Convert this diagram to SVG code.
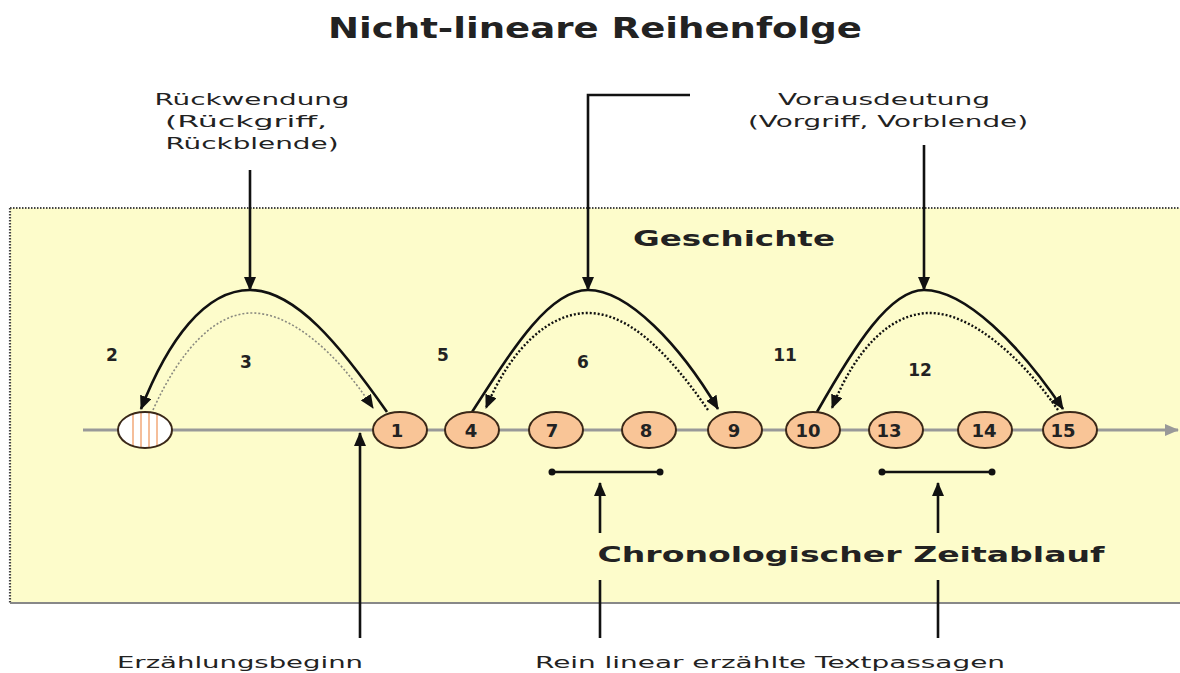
<svg xmlns="http://www.w3.org/2000/svg" width="1180" height="673" viewBox="0 0 1180 673">
<style>
.t{font-family:"DejaVu Sans","Liberation Sans",sans-serif;fill:#222}
.lab{font-size:16px}
.b{font-weight:bold}
.num{font-size:17px;font-weight:bold;text-anchor:middle}
.nn{font-size:18px}
.node{fill:#F9C597;stroke:#3a2818;stroke-width:2}
.solid{fill:none;stroke:#111;stroke-width:2.6}
.dot{fill:none;stroke:#111;stroke-width:2.4;stroke-dasharray:2 2}
.dotl{fill:none;stroke:#8a8a80;stroke-width:1.6;stroke-dasharray:2 2}
.ptr{fill:none;stroke:#111;stroke-width:2.6}
</style>
<defs>
<marker id="ah" markerUnits="userSpaceOnUse" markerWidth="14" markerHeight="12" refX="13" refY="6" orient="auto"><path d="M0,0 L14,6 L0,12 z" fill="#111"/></marker>
<marker id="ahg" markerUnits="userSpaceOnUse" markerWidth="14" markerHeight="12" refX="13" refY="6" orient="auto"><path d="M0,0 L14,6 L0,12 z" fill="#999"/></marker>
<marker id="dt" markerUnits="userSpaceOnUse" markerWidth="8" markerHeight="8" refX="4" refY="4"><circle cx="4" cy="4" r="3.5" fill="#111"/></marker>
<clipPath id="ec"><ellipse cx="145" cy="430" rx="27" ry="18"/></clipPath>
</defs>
<rect width="1180" height="673" fill="#fff"/>
<g id="title"><text class="t b" x="595" y="38" font-size="28" text-anchor="middle" textLength="534" lengthAdjust="spacingAndGlyphs">Nicht-lineare Reihenfolge</text></g>
<g id="geschichte-box">
<rect x="10" y="208" width="1180" height="395" fill="#FDFCCB"/>
<line x1="10" y1="208" x2="1180" y2="208" stroke="#444" stroke-width="2.2" stroke-dasharray="1.5 1.5"/>
<line x1="10" y1="208" x2="10" y2="603" stroke="#444" stroke-width="2.2" stroke-dasharray="1.5 1.5"/>
<line x1="10" y1="603" x2="1180" y2="603" stroke="#888" stroke-width="2"/>
<text class="t b" x="734" y="246" font-size="22" text-anchor="middle" textLength="202" lengthAdjust="spacingAndGlyphs">Geschichte</text>
</g>
<g id="timeline"><line x1="83" y1="430" x2="1178" y2="430" stroke="#999" stroke-width="3" marker-end="url(#ahg)"/></g>
<g id="connectors">
<path class="solid" d="M387,412 C340,345 295,290 250,290 C205,290 168,340 141,409" marker-end="url(#ah)"/>
<path class="dotl" d="M153,410 C180,350 215,313 252,313 C290,313 335,350 373,408" marker-end="url(#ah)"/>
<path class="solid" d="M472,412 C515,345 550,290 588,290 C628,290 680,345 718,409" marker-end="url(#ah)"/>
<path class="dot" d="M708,410 C670,355 630,313 588,313 C548,313 510,350 486,408" marker-end="url(#ah)"/>
<path class="solid" d="M817,412 C855,345 890,290 924,290 C965,290 1020,345 1063,409" marker-end="url(#ah)"/>
<path class="dot" d="M1058,410 C1020,355 970,313 930,313 C890,313 855,350 832,408" marker-end="url(#ah)"/>
<line class="ptr" x1="250" y1="170" x2="250" y2="290" marker-end="url(#ah)"/>
<polyline class="ptr" points="690,95 588,95 588,290" marker-end="url(#ah)"/>
<line class="ptr" x1="924" y1="145" x2="924" y2="290" marker-end="url(#ah)"/>
<line class="ptr" x1="360" y1="638" x2="360" y2="433" marker-end="url(#ah)"/>
<line class="ptr" x1="600" y1="533" x2="600" y2="483" marker-end="url(#ah)"/>
<line class="ptr" x1="600" y1="580" x2="600" y2="638"/>
<line class="ptr" x1="938" y1="533" x2="938" y2="483" marker-end="url(#ah)"/>
<line class="ptr" x1="938" y1="580" x2="938" y2="638"/>
<line class="ptr" x1="552" y1="472" x2="660" y2="472" marker-start="url(#dt)" marker-end="url(#dt)"/>
<line class="ptr" x1="882" y1="472" x2="992" y2="472" marker-start="url(#dt)" marker-end="url(#dt)"/>
</g>
<g id="n-start">
<ellipse cx="145" cy="430" rx="27" ry="18" fill="#fff"/>
<g clip-path="url(#ec)" stroke="#F2A878" stroke-width="1.5"><line x1="133" y1="410" x2="133" y2="450"/><line x1="141" y1="410" x2="141" y2="450"/><line x1="149" y1="410" x2="149" y2="450"/><line x1="157" y1="410" x2="157" y2="450"/></g>
<ellipse cx="145" cy="430" rx="27" ry="18" fill="none" stroke="#3a2818" stroke-width="2"/>
</g>
<g id="n1"><ellipse class="node" cx="400" cy="430" rx="27" ry="18"/><text class="t num nn" x="397" y="437">1</text></g>
<g id="n4"><ellipse class="node" cx="472" cy="430" rx="27" ry="18"/><text class="t num nn" x="471" y="437">4</text></g>
<g id="n7"><ellipse class="node" cx="556" cy="430" rx="27" ry="18"/><text class="t num nn" x="552" y="437">7</text></g>
<g id="n8"><ellipse class="node" cx="649" cy="430" rx="27" ry="18"/><text class="t num nn" x="646" y="437">8</text></g>
<g id="n9"><ellipse class="node" cx="735" cy="430" rx="27" ry="18"/><text class="t num nn" x="734" y="437">9</text></g>
<g id="n10"><ellipse class="node" cx="813" cy="430" rx="27" ry="18"/><text class="t num nn" x="808" y="437">10</text></g>
<g id="n13"><ellipse class="node" cx="896" cy="430" rx="27" ry="18"/><text class="t num nn" x="889" y="437">13</text></g>
<g id="n14"><ellipse class="node" cx="985" cy="430" rx="27" ry="18"/><text class="t num nn" x="984" y="437">14</text></g>
<g id="n15"><ellipse class="node" cx="1070" cy="430" rx="27" ry="18"/><text class="t num nn" x="1063" y="437">15</text></g>
<g id="phases">
<text class="t num" x="112" y="361">2</text>
<text class="t num" x="246" y="368">3</text>
<text class="t num" x="443" y="361">5</text>
<text class="t num" x="583" y="368">6</text>
<text class="t num" x="785" y="361">11</text>
<text class="t num" x="920" y="376">12</text>
</g>
<g id="label-rueckwendung" class="t lab" text-anchor="middle">
<text x="252" y="105" textLength="195" lengthAdjust="spacingAndGlyphs">Rückwendung</text>
<text x="246" y="127" textLength="162" lengthAdjust="spacingAndGlyphs">(Rückgriff,</text>
<text x="252" y="149" textLength="173" lengthAdjust="spacingAndGlyphs">Rückblende)</text>
</g>
<g id="label-vorausdeutung" class="t lab" text-anchor="middle">
<text x="884" y="105" textLength="212" lengthAdjust="spacingAndGlyphs">Vorausdeutung</text>
<text x="888" y="127" textLength="280" lengthAdjust="spacingAndGlyphs">(Vorgriff, Vorblende)</text>
</g>
<g id="label-chrono"><text class="t b" x="851" y="562" font-size="22" text-anchor="middle" textLength="507" lengthAdjust="spacingAndGlyphs">Chronologischer Zeitablauf</text></g>
<g id="label-beginn"><text class="t lab" x="240" y="668" text-anchor="middle" textLength="246" lengthAdjust="spacingAndGlyphs">Erzählungsbeginn</text></g>
<g id="label-linear"><text class="t lab" x="770" y="668" text-anchor="middle" textLength="470" lengthAdjust="spacingAndGlyphs">Rein linear erzählte Textpassagen</text></g>
</svg>
